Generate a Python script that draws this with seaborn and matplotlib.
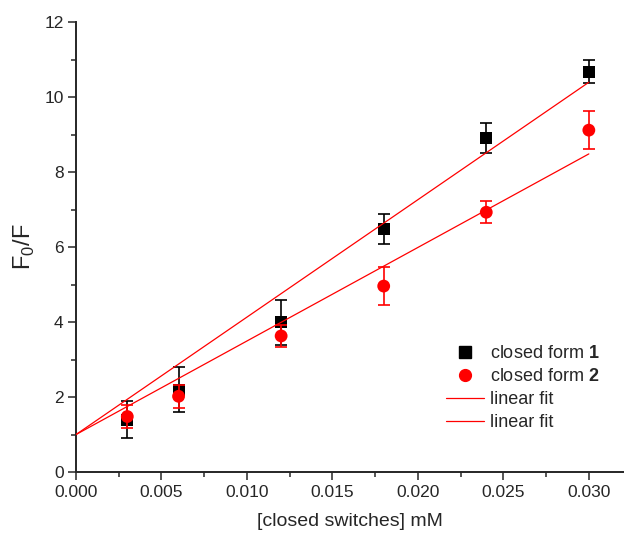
import numpy as np
import pandas as pd
import seaborn as sns
import matplotlib
matplotlib.use("Agg")
import matplotlib.pyplot as plt
from matplotlib.lines import Line2D
from matplotlib.ticker import MultipleLocator, FormatStrFormatter

# concentrations of closed switches (mM)
conc = [0.003, 0.006, 0.012, 0.018, 0.024, 0.030]

# F0/F for closed form 1 and 2, with error bars
f_form1 = [1.40, 2.20, 4.00, 6.48, 8.90, 10.68]
err_form1 = [0.50, 0.60, 0.60, 0.40, 0.40, 0.30]
f_form2 = [1.48, 2.02, 3.63, 4.96, 6.93, 9.12]
err_form2 = [0.30, 0.30, 0.30, 0.50, 0.30, 0.50]

# Stern-Volmer fit, intercept fixed at 1
F_INTERCEPT = 1.0
fit_x = [0.0, 0.030]

sns.set_style("ticks")
plt.rcParams['font.family'] = ['Liberation Sans', 'DejaVu Sans']
plt.rcParams['mathtext.fontset'] = 'custom'
plt.rcParams['mathtext.rm'] = 'Liberation Sans'
plt.rcParams['mathtext.bf'] = 'Liberation Sans:bold'


def sv_slope(x, y):
    x = np.asarray(x)
    y = np.asarray(y) - F_INTERCEPT
    return np.sum(x * y) / np.sum(x * x)


df = pd.DataFrame({"conc": conc, "f1": f_form1, "f2": f_form2})
k1 = sv_slope(conc, f_form1)
k2 = sv_slope(conc, f_form2)
fits = pd.DataFrame({
    "x": fit_x + fit_x,
    "y": [F_INTERCEPT + k1 * x for x in fit_x] + [F_INTERCEPT + k2 * x for x in fit_x],
    "fit": ["1", "1", "2", "2"],
})

fig = plt.figure(figsize=(6.24, 5.4), dpi=100)
ax = fig.add_axes([0.1218, 0.1259, 0.878, 0.833])

ax.errorbar(conc, f_form1, yerr=err_form1, fmt="none", ecolor="black",
            elinewidth=1.2, capsize=4, capthick=1.2, zorder=2)
sns.scatterplot(data=df, x="conc", y="f1", marker="s", s=75, color="black",
                edgecolor="none", ax=ax, zorder=3)
ax.errorbar(conc, f_form2, yerr=err_form2, fmt="none", ecolor="red",
            elinewidth=1.2, capsize=4, capthick=1.2, zorder=4)
sns.scatterplot(data=df, x="conc", y="f2", marker="o", s=85, color="red",
                edgecolor="none", ax=ax, zorder=5)
sns.lineplot(data=fits, x="x", y="y", units="fit", estimator=None, color="red",
             linewidth=0.9, ax=ax, zorder=6)

ax.set_xlim(0, 0.03205)
ax.set_ylim(0, 12)
ax.xaxis.set_major_locator(MultipleLocator(0.005))
ax.xaxis.set_minor_locator(MultipleLocator(0.0025))
ax.xaxis.set_major_formatter(FormatStrFormatter("%.3f"))
ax.yaxis.set_major_locator(MultipleLocator(2))
ax.yaxis.set_minor_locator(MultipleLocator(1))
ax.tick_params(which="major", direction="out", length=6, width=1.1, labelsize=12.5, pad=3)
ax.tick_params(which="minor", direction="out", length=3.5, width=1.1)
for side in ["left", "bottom"]:
    ax.spines[side].set_linewidth(1.4)
sns.despine(ax=ax)

ax.set_xlabel("[closed switches] mM", fontsize=14, labelpad=10)
ax.set_ylabel("F$_0$/F", fontsize=17, labelpad=5)

handles = [
    Line2D([], [], marker="s", color="black", linestyle="none", markersize=8),
    Line2D([], [], marker="o", color="red", linestyle="none", markersize=8.5),
    Line2D([], [], color="red", linewidth=0.9),
    Line2D([], [], color="red", linewidth=0.9),
]
labels = [r"closed form $\mathbf{1}$", r"closed form $\mathbf{2}$", "linear fit", "linear fit"]
ax.legend(handles, labels, loc="upper left", bbox_to_anchor=(0.663, 0.298),
          frameon=False, fontsize=13, handlelength=2.1, handletextpad=0.3,
          labelspacing=0.33, borderaxespad=0)

fig.savefig("out.png", dpi=100)
